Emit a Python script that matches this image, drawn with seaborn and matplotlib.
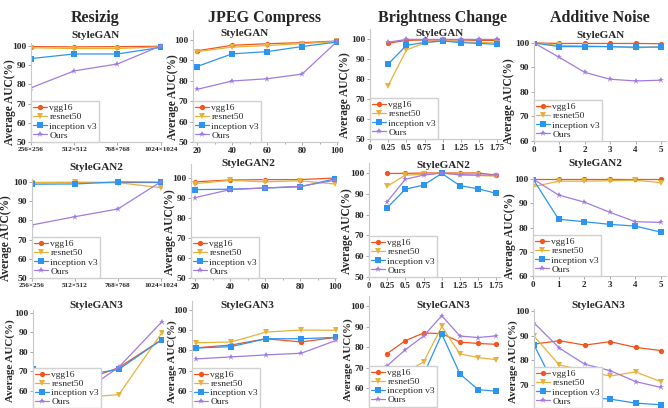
import numpy as np
import pandas as pd
import matplotlib.pyplot as plt
import matplotlib.ticker as mticker
import seaborn as sns

sns.set_theme(style='white')
plt.rcParams.update({'font.family': ['Liberation Serif', 'DejaVu Serif'],
                     'axes.edgecolor': '#c8c8c8', 'axes.linewidth': 0.8})

models = ['vgg16', 'resnet50', 'inception v3', 'Ours']
col_titles = ['Resizig', 'JPEG Compress', 'Brightness Change', 'Additive Noise']
row_titles = ['StyleGAN', 'StyleGAN2', 'StyleGAN3']

resize_labels = ['256×256', '512×512', '768×768', '1024×1024']
resize_x = [0, 1, 2, 3]
jpeg_x = [20, 40, 60, 80, 100]
bright_x = [0.25, 0.5, 0.75, 1.0, 1.25, 1.5, 1.75]
noise_x = [0, 1, 2, 3, 4, 5]

# StyleGAN
resize_sg1 = {'vgg16': [99.6, 99.5, 99.6, 99.8],
              'resnet50': [99.0, 98.6, 98.6, 99.5],
              'inception v3': [93.4, 95.8, 95.8, 99.2],
              'Ours': [78.2, 87.0, 90.6, 100.0]}
jpeg_sg1 = {'vgg16': [94.7, 97.4, 98.2, 98.7, 99.5],
            'resnet50': [94.3, 96.5, 97.3, 98.2, 99.3],
            'inception v3': [87.0, 93.2, 94.3, 96.8, 99.0],
            'Ours': [75.8, 79.9, 81.0, 83.3, 99.3]}
bright_sg1 = {'vgg16': [97.9, 99.3, 99.5, 99.5, 99.5, 99.3, 99.3],
              'resnet50': [76.7, 94.5, 98.0, 99.3, 98.6, 98.3, 98.0],
              'inception v3': [87.5, 96.8, 98.3, 99.0, 98.2, 97.8, 97.3],
              'Ours': [98.4, 99.8, 99.8, 99.8, 99.8, 99.8, 99.8]}
noise_sg1 = {'vgg16': [100.0, 99.8, 99.8, 99.8, 99.8, 99.7],
             'resnet50': [100.0, 99.0, 98.8, 98.5, 98.0, 98.5],
             'inception v3': [100.0, 98.5, 98.5, 98.5, 98.3, 98.3],
             'Ours': [100.0, 94.1, 88.0, 85.2, 84.5, 84.8]}

# StyleGAN2
resize_sg2 = {'vgg16': [100.0, 100.0, 100.0, 100.0],
              'resnet50': [99.6, 99.8, 99.6, 97.0],
              'inception v3': [98.8, 98.9, 100.0, 99.8],
              'Ours': [77.6, 81.9, 85.9, 100.0]}
jpeg_sg2 = {'vgg16': [98.1, 99.0, 99.2, 99.2, 100.0],
            'resnet50': [97.2, 98.8, 98.1, 98.6, 97.0],
            'inception v3': [94.2, 94.4, 95.0, 95.6, 99.6],
            'Ours': [90.2, 94.2, 95.0, 95.8, 98.9]}
bright_sg2 = {'vgg16': [99.8, 99.8, 100.0, 100.0, 100.0, 100.0, 99.0],
              'resnet50': [93.6, 99.0, 99.3, 100.0, 99.0, 98.8, 98.5],
              'inception v3': [83.3, 92.2, 94.2, 99.8, 93.9, 92.4, 90.2],
              'Ours': [86.2, 97.0, 99.0, 100.0, 99.2, 99.0, 99.0]}
noise_sg2 = {'vgg16': [100.0, 100.0, 100.0, 100.0, 100.0, 100.0],
             'resnet50': [96.8, 99.1, 99.1, 99.3, 99.5, 98.5],
             'inception v3': [100.0, 83.4, 82.4, 81.3, 80.6, 78.1],
             'Ours': [100.0, 93.4, 90.5, 86.3, 82.4, 82.1]}

# StyleGAN3
resize_sg3 = {'vgg16': [61.0, 64.0, 72.0, 86.3],
              'resnet50': [57.3, 56.5, 58.1, 89.7],
              'inception v3': [71.5, 67.4, 71.1, 86.3],
              'Ours': [52.5, 57.0, 72.2, 95.4]}
jpeg_sg3 = {'vgg16': [81.3, 82.7, 85.8, 84.2, 86.5],
            'resnet50': [83.8, 84.2, 89.1, 90.1, 90.0],
            'inception v3': [81.2, 81.9, 85.8, 85.8, 86.5],
            'Ours': [75.8, 76.8, 77.8, 78.6, 85.0]}
bright_sg3 = {'vgg16': [76.9, 83.2, 86.9, 86.6, 82.5, 81.8, 81.4],
              'resnet50': [64.0, 68.0, 72.8, 90.1, 76.7, 75.0, 73.9],
              'inception v3': [60.5, 63.3, 66.7, 86.4, 67.0, 59.4, 58.6],
              'Ours': [71.0, 78.8, 85.4, 95.3, 85.4, 84.7, 85.5]}
noise_sg3 = {'vgg16': [86.6, 88.0, 86.2, 87.6, 85.3, 84.0],
             'resnet50': [89.8, 78.2, 75.9, 73.7, 75.4, 71.4],
             'inception v3': [86.3, 66.0, 65.1, 64.4, 62.8, 62.1],
             'Ours': [95.2, 85.0, 78.5, 75.9, 71.5, 69.1]}

panels = [[resize_sg1, jpeg_sg1, bright_sg1, noise_sg1],
          [resize_sg2, jpeg_sg2, bright_sg2, noise_sg2],
          [resize_sg3, jpeg_sg3, bright_sg3, noise_sg3]]
xs = [resize_x, jpeg_x, bright_x, noise_x]

COLORS = {'vgg16': '#F2551F', 'resnet50': '#E8B23A',
          'inception v3': '#2C95F0', 'Ours': '#A07BE0'}
MARKERS = {'vgg16': 'o', 'resnet50': 'v', 'inception v3': 's', 'Ours': '*'}
MSIZE = {'vgg16': 3.8, 'resnet50': 4.0, 'inception v3': 4.6, 'Ours': 4.8}

W, H = 668, 408
# pixel boxes: left, right, top, bottom, ylim
boxes = [
    [(31, 162, 43, 142, (50, 101.5)), (193, 338, 29.8, 142, (50, 105)),
     (370, 501, 29, 139, (50, 105)), (534, 666, 40.5, 141, (60, 101))],
    [(32, 162, 179, 278, (50, 101.5)), (191, 336, 164, 278, (50, 107)),
     (369, 500, 162.6, 277, (50, 105)), (533, 666, 176.6, 276, (60, 101))],
    [(33, 163, 310, 410.5, (50, 101.5)), (192, 337, 301, 411, (50, 104.5)),
     (369, 500, 295.7, 409, (50, 105)), (534, 666, 308.5, 410, (60, 101))],
]
ylabel_x = [[16, 179, 351, 515],
            [12, 176, 353, 516],
            [15, 177, 353, 518]]
ylabel_y = [[0.4, 0.4, 0.4, 0.4],
            [0.4, 0.4, 0.4, 0.4],
            [0.5, 0.45, 0.44, 0.48]]
ylabel_size = [8.3, 8.3, 7.9]
xlims = [(0, 3.03), (17.7, 100.5), (0, 1.8), (0, 5.2)]
sub_title_pos = [[(96, 35), (245, 33), (440, 33), (601, 35)],
                 [(96, 167), (248, 163), (443, 165), (595, 163)],
                 [(96, 305), (247, 306), (443, 305), (598, 306)]]
col_title_pos = [(95, 18), (265, 18), (443, 18), (600, 18)]

fig = plt.figure(figsize=(W / 100, H / 100), dpi=100)

for r in range(3):
    for c in range(4):
        left, right, top, bottom, ylim = boxes[r][c]
        ax = fig.add_axes([left / W, 1 - bottom / H, (right - left) / W, (bottom - top) / H])
        data = panels[r][c]
        for m in models:
            sns.lineplot(x=xs[c], y=data[m], ax=ax, label=m, color=COLORS[m],
                         marker=MARKERS[m], markersize=MSIZE[m], markeredgewidth=0,
                         linewidth=0.9)
        ax.set_xlim(*xlims[c])
        ax.set_ylim(*ylim)
        # the last row is cropped at the bottom edge, like the source figure
        ystart = ylim[0] + 10 if r == 2 else ylim[0]
        ax.set_yticks(np.arange(ystart, 101, 10))
        if c == 0:
            ax.set_xticks(resize_x)
            ax.set_xticklabels(resize_labels)
            ax.tick_params(axis='x', labelsize=5.2)
        elif c == 1:
            ax.set_xticks(jpeg_x)
            ax.xaxis.set_minor_locator(mticker.MultipleLocator(10))
            ax.tick_params(axis='x', labelsize=6.5)
        elif c == 2:
            ax.set_xticks([0] + bright_x)
            ax.set_xticklabels(['0', '0.25', '0.5', '0.75', '1', '1.25', '1.5', '1.75'])
            ax.tick_params(axis='x', labelsize=6.2)
        else:
            ax.set_xticks(noise_x)
            ax.tick_params(axis='x', labelsize=6.5)
        ax.tick_params(axis='y', labelsize=6.8)
        ax.tick_params(axis='both', which='both', bottom=True, left=True, length=2,
                       width=0.6, color='#999999', pad=1.5)
        ax.tick_params(axis='x', which='minor', length=1.5)
        if r == 2:
            ax.tick_params(axis='x', labelbottom=False)
        plt.setp(ax.get_xticklabels() + ax.get_yticklabels(), fontweight='bold')
        for s in ['top', 'right']:
            ax.spines[s].set_visible(False)
        ax.set_xlabel('')
        ax.set_ylabel('Average AUC(%)', fontsize=ylabel_size[r], fontweight='bold')
        ax.yaxis.set_label_coords((ylabel_x[r][c] - left) / (right - left), ylabel_y[r][c])
        ax.legend(loc='lower left', fontsize=6.8, borderaxespad=0, frameon=True,
                  fancybox=False, edgecolor='#d0d0d0', framealpha=1,
                  labelspacing=0.05, handlelength=1.4, handletextpad=0.3,
                  borderpad=0.25,
                  bbox_to_anchor=(0, 0.02) if r == 2 else (0, 0))
        tx, ty = sub_title_pos[r][c]
        fig.text(tx / W, 1 - ty / H, row_titles[r], ha='center', va='center',
                 fontsize=8, fontweight='bold')

for title, (tx, ty) in zip(col_titles, col_title_pos):
    fig.text(tx / W, 1 - ty / H, title, ha='center', va='center',
             fontsize=11.5, fontweight='bold')

fig.savefig('out.png', dpi=100)
